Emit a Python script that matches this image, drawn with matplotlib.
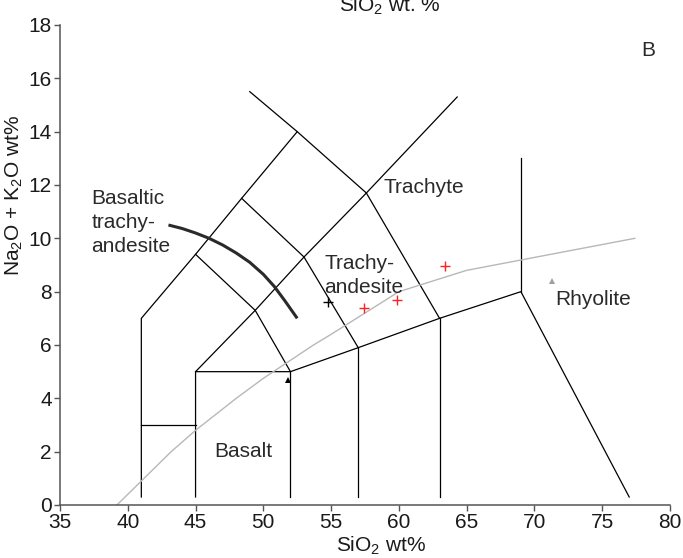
import matplotlib
matplotlib.use('Agg')
import matplotlib.pyplot as plt

plt.rcParams['font.family'] = ['Liberation Sans', 'DejaVu Sans']
plt.rcParams['mathtext.fontset'] = 'custom'
plt.rcParams['mathtext.rm'] = 'Liberation Sans'
plt.rcParams['mathtext.it'] = 'Liberation Sans'

# TAS field boundaries (SiO2, Na2O+K2O)
field_lines = [
    [(41, 0.3), (41, 7), (45, 9.4), (48.4, 11.5), (52.5, 14), (49.0, 15.5)],
    [(41, 3), (45, 3)],
    [(45, 0.3), (45, 5), (52, 5), (57, 5.9), (63, 7), (69, 8), (76.99, 0.3)],
    [(52, 0.3), (52, 5)],
    [(57, 0.3), (57, 5.9)],
    [(63, 0.3), (63, 7)],
    [(69, 8), (69, 13)],
    [(45, 5), (49.4, 7.3), (53, 9.3), (57.6, 11.7), (64.3, 15.3)],
    [(45, 9.4), (49.4, 7.3), (52, 5)],
    [(48.4, 11.5), (53, 9.3), (57, 5.9)],
    [(52.5, 14), (57.6, 11.7), (63, 7)],
]

# alkaline / subalkaline divide
divide_x = [39.2, 40, 43.2, 45, 48, 50, 53.7, 55, 60, 65, 77.4]
divide_y = [0, 0.4, 2, 2.8, 4, 4.75, 6, 6.4, 8, 8.8, 10]

# thick arc
arc_x = [43.0, 44.0, 45.0, 46.0, 47.0, 48.0, 49.0, 50.0, 50.8, 51.6, 52.5]
arc_y = [10.5, 10.37, 10.2, 10.0, 9.75, 9.45, 9.1, 8.65, 8.2, 7.65, 7.0]

# samples
red_x = [57.4, 59.85, 63.4]
red_y = [7.38, 7.68, 8.97]
black_plus_x = [54.8]
black_plus_y = [7.62]
black_tri_x = [51.8]
black_tri_y = [4.69]
gray_tri_x = [71.3]
gray_tri_y = [8.41]

fig = plt.figure(figsize=(6.83, 5.58), dpi=100)
ax = fig.add_axes([60 / 683, 53 / 558, 610 / 683, 480 / 558])

for seg in field_lines:
    xs = [p[0] for p in seg]
    ys = [p[1] for p in seg]
    ax.plot(xs, ys, color='black', lw=0.9, solid_joinstyle='miter')

ax.plot(divide_x, divide_y, color='#b8b8b8', lw=1.0)
ax.plot(arc_x, arc_y, color='#2a2a2a', lw=2.2, solid_capstyle='butt')

ax.plot(red_x, red_y, '+', color='#ff2020', ms=7, mew=1.0)
ax.plot(black_plus_x, black_plus_y, '+', color='black', ms=7, mew=1.0)
ax.plot(black_tri_x, black_tri_y, '^', color='black', ms=5, mew=0)
ax.plot(gray_tri_x, gray_tri_y, '^', color='#a0a0a0', ms=4, mew=0)

tc = '#2a2a2a'
fs = 15
ax.text(37.3, 10.6, 'Basaltic\ntrachy-\nandesite', fontsize=fs, color=tc, va='center', ha='left', linespacing=1.35)
ax.text(54.5, 8.6, 'Trachy-\nandesite', fontsize=fs, color=tc, va='center', ha='left', linespacing=1.35)
ax.text(58.9, 11.9, 'Trachyte', fontsize=fs, color=tc, va='center', ha='left')
ax.text(71.5, 7.7, 'Rhyolite', fontsize=fs, color=tc, va='center', ha='left')
ax.text(46.4, 2.0, 'Basalt', fontsize=fs, color=tc, va='center', ha='left')
ax.text(78.4, 17.05, 'B', fontsize=fs, color=tc, va='center', ha='center')

ax.set_xlim(35, 80)
ax.set_ylim(0, 18)
ax.set_xticks(range(35, 81, 5))
ax.set_yticks(range(0, 19, 2))
for s in ['top', 'right']:
    ax.spines[s].set_visible(False)
for s in ['left', 'bottom']:
    ax.spines[s].set_color('#555555')
    ax.spines[s].set_linewidth(1.1)
ax.tick_params(direction='out', length=4, width=1, color='#555555', labelsize=fs, labelcolor='#1a1a1a')
ax.tick_params(axis='y', pad=2)
ax.tick_params(axis='x', pad=2)

ax.set_xlabel(r'SiO$_2$ wt%', fontsize=fs, color='#1a1a1a')
ax.xaxis.set_label_coords(0.526, -0.062)
ax.xaxis.label.set_va('top')
ax.set_ylabel(r'Na$_2$O + K$_2$O wt%', fontsize=fs, color='#1a1a1a')
ax.yaxis.set_label_coords(-0.058, 0.645)

fig.text(390 / 683, 1 - 12 / 558, r'SiO$_2$ wt. %', fontsize=fs, color='#1a1a1a', ha='center', va='baseline')

plt.savefig('out.png', dpi=100)
